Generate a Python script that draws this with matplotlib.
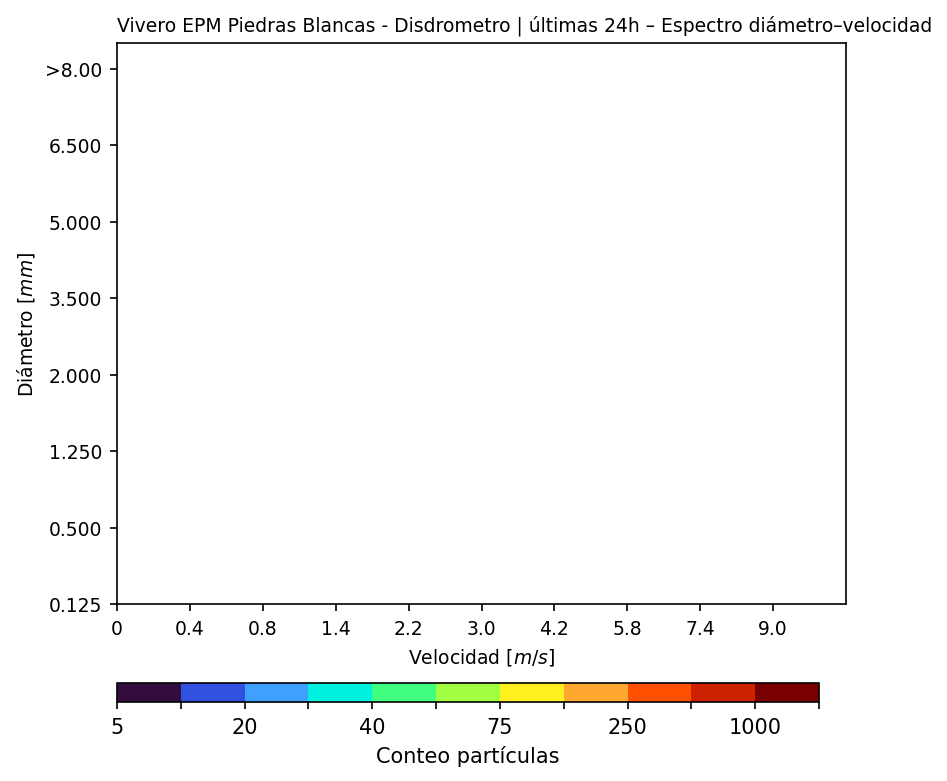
import matplotlib
matplotlib.use("Agg")
import matplotlib.pyplot as plt
from matplotlib.colors import ListedColormap, BoundaryNorm
import matplotlib.cm as cm

title = "Vivero EPM Piedras Blancas - Disdrometro | últimas 24h – Espectro diámetro–velocidad"
x_ticklabels = ["0", "0.4", "0.8", "1.4", "2.2", "3.0", "4.2", "5.8", "7.4", "9.0"]
y_ticklabels = ["0.125", "0.500", "1.250", "2.000", "3.500", "5.000", "6.500", ">8.00"]
n_vel_classes = 30
n_diam_classes = 22
tick_step = 3
cbar_bounds = [5, 10, 20, 30, 40, 50, 75, 100, 250, 500, 1000, 2000]
cbar_labels = ["5", "", "20", "", "40", "", "75", "", "250", "", "1000", ""]
cbar_colors = ["#330d3f", "#3050e0", "#40a0ff", "#00f0e0", "#40ff80", "#a0ff40",
               "#fff020", "#ffa830", "#ff5000", "#cc2200", "#7a0000"]

fig = plt.figure(figsize=(947/150, 782/150), dpi=150)
ax = fig.add_axes([117/947, 1-605/782, 729/947, 561/782])
ax.set_xlim(0, n_vel_classes)
ax.set_ylim(0, n_diam_classes)
ax.set_xticks(range(0, tick_step*len(x_ticklabels), tick_step))
ax.set_xticklabels(x_ticklabels, fontsize=9)
ax.set_yticks(range(0, tick_step*len(y_ticklabels), tick_step))
ax.set_yticklabels(y_ticklabels, fontsize=9)
ax.set_xlabel("Velocidad [$m/s$]", fontsize=9)
ax.set_ylabel("Diámetro [$mm$]", fontsize=9)
ax.set_title(title, fontsize=9, loc="left")

cmap = ListedColormap(cbar_colors)
norm = BoundaryNorm(cbar_bounds, cmap.N)
cax = fig.add_axes([117/947, 1-703/782, 702/947, 19/782])
sm = cm.ScalarMappable(norm=norm, cmap=cmap)
cb = fig.colorbar(sm, cax=cax, orientation="horizontal", spacing="uniform",
                  ticks=cbar_bounds)
cb.ax.set_xticklabels(cbar_labels, fontsize=10)
cb.set_label("Conteo partículas", fontsize=10)
cb.ax.minorticks_off()

fig.savefig("out.png", dpi=150)
